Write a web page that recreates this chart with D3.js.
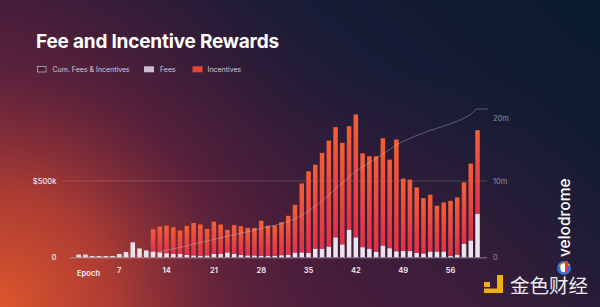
<!DOCTYPE html>
<html><head><meta charset="utf-8">
<script src="https://cdn.jsdelivr.net/npm/d3@7"></script>
<style>html,body{margin:0;padding:0;background:#1a1a2e;overflow:hidden}svg{display:block}</style>
</head><body>
<svg id="c" width="600" height="307"></svg>
<script>
// ---- data (k$ per epoch) ----
const epochs = [1,2,3,4,5,6,7,8,9,10,11,12,13,14,15,16,17,18,19,20,21,22,23,24,25,26,27,28,29,30,
  31,32,33,34,35,36,37,38,39,40,41,42,43,44,45,46,47,48,49,50,51,52,53,54,55,56,57,58,59,60];
const fees = [18,18,8,8,8,8,22,35,98,58,45,
  37,31,26,22,22,15,11,9,11,22,22,31,22,15,11,11,9,9,9,
  13,16,30,31,28,55,55,70,130,84,180,130,66,55,36,
  76,59,39,41,41,28,24,37,37,37,8,16,88,109,285];
const incentives = [0,0,0,0,0,0,0,0,0,0,0,
  147,170,181,175,153,191,214,206,175,212,193,149,188,189,182,182,230,198,198,
  216,256,314,453,535,552,629,695,723,666,679,806,615,607,626,
  704,581,733,474,468,430,364,373,301,322,362,376,403,505,548];
const xTicks = [7,14,21,28,35,42,49,56];
const leftTicks = [0,500];
const leftTickLabels = ["0","$500k"];
const rightTicks = [0,10,20];
const rightTickLabels = ["0","10m","20m"];
const legendItems = ["Cum. Fees & Incentives","Fees","Incentives"];
const title = "Fee and Incentive Rewards";

// ---- derived ----
const rows = epochs.map((e,i)=>({e, fee:fees[i], inc:incentives[i]}));
let acc = 0;
const cum = rows.map(r=>{acc += r.fee + r.inc; return {e:r.e, v:acc/1000};});

const svg = d3.select('#c');
const defs = svg.append('defs');

// background
const bg = defs.append('linearGradient').attr('id','bg')
  .attr('x1',0).attr('y1',0.75).attr('x2',1).attr('y2',0.15);
[[0,'#5c2440'],[0.35,'#3e1c3b'],[0.7,'#181c36'],[1,'#0c1a2f']]
  .forEach(([o,c])=>bg.append('stop').attr('offset',o).attr('stop-color',c));
const glow = defs.append('radialGradient').attr('id','glow')
  .attr('gradientUnits','userSpaceOnUse').attr('cx',0).attr('cy',307).attr('r',390);
[[0,'rgb(222,86,44)',1],[0.3,'rgb(192,66,48)',0.8],[0.6,'rgb(130,40,56)',0.35],[1,'rgb(70,25,55)',0]]
  .forEach(([o,c,a])=>glow.append('stop').attr('offset',o).attr('stop-color',c).attr('stop-opacity',a));
const glow2 = defs.append('radialGradient').attr('id','glow2')
  .attr('gradientUnits','userSpaceOnUse').attr('cx',420).attr('cy',330).attr('r',260);
[[0,'rgb(75,30,60)',0.55],[1,'rgb(75,30,60)',0]]
  .forEach(([o,c,a])=>glow2.append('stop').attr('offset',o).attr('stop-color',c).attr('stop-opacity',a));

const barG = defs.append('linearGradient').attr('id','barG').attr('x1',0).attr('y1',0).attr('x2',0).attr('y2',1);
[[0,'#f45f35'],[1,'#de3249']].forEach(([o,c])=>barG.append('stop').attr('offset',o).attr('stop-color',c));

svg.append('rect').attr('width',600).attr('height',307).attr('fill','url(#bg)');
svg.append('rect').attr('width',600).attr('height',307).attr('fill','url(#glow2)');
svg.append('rect').attr('width',600).attr('height',307).attr('fill','url(#glow)');

// scales
const x = d3.scaleBand().domain(epochs).range([75.3,480.9]).paddingInner(0.33).paddingOuter(0.165);
const yL = d3.scaleLinear().domain([0,500]).range([257.3,181]);
const yR = d3.scaleLinear().domain([0,10,20]).range([257.3,181,118]);

// gridline at 500k
svg.append('line').attr('x1',63).attr('x2',487).attr('y1',yL(500)).attr('y2',yL(500))
  .attr('stroke','rgba(255,255,255,0.16)').attr('stroke-width',1);

// bars
const g = svg.append('g');
g.selectAll('rect.inc').data(rows.filter(d=>d.inc>0)).join('rect').attr('class','inc')
  .attr('x',d=>x(d.e)).attr('width',x.bandwidth())
  .attr('y',d=>yL(d.fee+d.inc)).attr('height',d=>yL(d.fee)-yL(d.fee+d.inc))
  .attr('fill','url(#barG)');
g.selectAll('rect.fee').data(rows).join('rect').attr('class','fee')
  .attr('x',d=>x(d.e)).attr('width',x.bandwidth())
  .attr('y',d=>yL(d.fee)).attr('height',d=>yL(0)-yL(d.fee))
  .attr('fill','#ece4ec');

// baseline
svg.append('line').attr('x1',70).attr('x2',487).attr('y1',yL(0)+0.5).attr('y2',yL(0)+0.5)
  .attr('stroke','rgba(215,200,215,0.55)').attr('stroke-width',1);

// cumulative line
const last = cum[cum.length-1];
const linePts = cum.concat([{e:null, v:last.v}]);
svg.append('path')
  .attr('d', d3.line().x(d=> d.e===null ? 488 : x(d.e)+x.bandwidth()/2).y(d=>yR(d.v)).curve(d3.curveMonotoneX)(linePts))
  .attr('fill','none').attr('stroke','rgba(200,212,232,0.45)').attr('stroke-width',0.8);

// left axis
const axL = svg.append('g').attr('transform','translate(60,0)')
  .call(d3.axisLeft(yL).tickValues(leftTicks).tickSize(0).tickPadding(3.5)
    .tickFormat((d,i)=>leftTickLabels[i]));
axL.select('.domain').remove();
axL.selectAll('text').attr('fill','#f2ecf0').attr('font-family','Inter, sans-serif')
  .attr('font-size',7.6).attr('font-weight',500);

// right axis
const axR = svg.append('g').attr('transform','translate(490,0)')
  .call(d3.axisRight(yR).tickValues(rightTicks).tickSize(0).tickPadding(3)
    .tickFormat((d,i)=>rightTickLabels[i]));
axR.select('.domain').remove();
axR.selectAll('text').attr('fill','#8c92a6').attr('font-family','Inter, sans-serif')
  .attr('font-size',7.4).attr('font-weight',400);

// x axis
const axX = svg.append('g').attr('transform','translate(0,268)')
  .call(d3.axisBottom(x).tickValues(xTicks).tickSize(0).tickPadding(0));
axX.select('.domain').remove();
axX.selectAll('text').attr('fill','#f4eef2').attr('font-family','Inter, sans-serif')
  .attr('font-size',7.6).attr('font-weight',600);
svg.append('text').attr('x',77).attr('y',275.5).text('Epoch')
  .attr('fill','#f4eef2').attr('font-family','Inter, sans-serif').attr('font-size',7.6).attr('font-weight',600);

// title
svg.append('text').attr('x',36).attr('y',47.5).text(title)
  .attr('fill','#ffffff').attr('font-family','Inter, sans-serif').attr('font-size',19).attr('font-weight',700)
  .attr('letter-spacing',-0.2);

// legend
const lg = svg.append('g').attr('font-family','Inter, sans-serif').attr('font-size',7).attr('fill','#d6ccd6');
const boxX = [37,144,192.5], txtX = [52.5,160,207.5];
lg.append('rect').attr('x',boxX[0]+0.5).attr('y',66.5).attr('width',8.5).attr('height',5.5)
  .attr('fill','rgba(60,30,55,0.6)').attr('stroke','#b8a8b8').attr('stroke-width',0.8);
lg.append('rect').attr('x',boxX[1]).attr('y',66.3).attr('width',10).attr('height',6).attr('fill','#c9bfcc');
lg.append('rect').attr('x',boxX[2]).attr('y',66.3).attr('width',10).attr('height',6).attr('fill','#e8453a');
legendItems.forEach((t,i)=>lg.append('text').attr('x',txtX[i]).attr('y',71.8).text(t));

// velodrome logo
svg.append('text').attr('transform','translate(569.5,257) rotate(-90)').text('velodrome')
  .attr('fill','#ffffff').attr('font-family','Inter, sans-serif').attr('font-size',15.5).attr('font-weight',500);
const logo = svg.append('g').attr('transform','translate(564,268)');
logo.append('ellipse').attr('rx',7).attr('ry',7).attr('fill','#2d6fd8');
logo.append('path').attr('d','M-5,-2 Q0,-9 6,-3 L3,-1 Q0,-5 -3,-1 Z').attr('fill','#f29b2c');
logo.append('ellipse').attr('rx',3.6).attr('ry',4.2).attr('fill','#ffffff');
logo.append('path').attr('d','M1,-7 L4,-7 L4,5 L1,5 Z').attr('fill','#e63a3a');

// watermark
const wm = svg.append('g');
wm.append('rect').attr('x',484).attr('y',282).attr('width',6).attr('height',5).attr('fill','#efb20c');
wm.append('rect').attr('x',497).attr('y',275).attr('width',6).attr('height',18).attr('fill','#efb20c');
wm.append('rect').attr('x',484).attr('y',288.5).attr('width',19).attr('height',4.5).attr('fill','#efb20c');
wm.append('text').attr('x',510).attr('y',293).text('金色财经')
  .attr('fill','#ececee').attr('font-family','"Noto Sans CJK SC", sans-serif').attr('font-size',19.5);
</script>
</body></html>
